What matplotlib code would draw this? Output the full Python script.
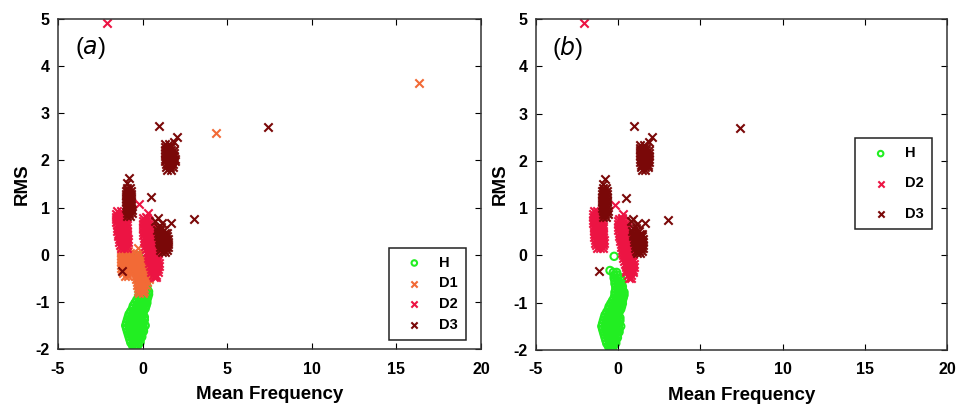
import numpy as np
import matplotlib.pyplot as plt

plt.rcParams['font.family'] = ['Liberation Sans', 'DejaVu Sans']
plt.rcParams['axes.unicode_minus'] = False

# feature points per class, written as (RMS, [mean frequencies]) rows
h_rows = [
    (-1.98, [-0.5, -0.35]),
    (-1.92, [-0.6, -0.45, -0.3]),
    (-1.86, [-0.7, -0.5, -0.3, -0.15]),
    (-1.80, [-0.75, -0.55, -0.35, -0.15]),
    (-1.74, [-0.8, -0.6, -0.4, -0.2, -0.05]),
    (-1.68, [-0.85, -0.65, -0.45, -0.25, -0.05]),
    (-1.62, [-0.9, -0.7, -0.5, -0.3, -0.1, 0.05]),
    (-1.56, [-0.95, -0.75, -0.55, -0.35, -0.15, 0.05]),
    (-1.50, [-1.0, -0.8, -0.6, -0.4, -0.2, 0.0, 0.15]),
    (-1.44, [-0.95, -0.75, -0.55, -0.35, -0.15, 0.05]),
    (-1.38, [-0.9, -0.7, -0.5, -0.3, -0.1, 0.1]),
    (-1.32, [-0.85, -0.65, -0.45, -0.25, -0.05, 0.1]),
    (-1.26, [-0.8, -0.6, -0.4, -0.2, 0.0]),
    (-1.20, [-0.7, -0.5, -0.3, -0.1, 0.05]),
    (-1.14, [-0.6, -0.4, -0.2, 0.0, 0.15]),
    (-1.08, [-0.55, -0.35, -0.15, 0.05, 0.2]),
    (-1.02, [-0.45, -0.25, -0.05, 0.15, 0.25]),
    (-0.96, [-0.35, -0.15, 0.05, 0.25]),
    (-0.90, [-0.25, -0.05, 0.15, 0.3]),
    (-0.84, [-0.2, 0.0, 0.2, 0.35]),
    (-0.78, [-0.2, 0.0, 0.2, 0.35]),
    (-0.72, [-0.15, 0.05, 0.25]),
    (-0.66, [-0.15, 0.05, 0.25]),
    (-0.60, [-0.2, 0.0, 0.2]),
    (-0.54, [-0.2, 0.0, 0.2]),
    (-0.48, [-0.25, -0.05, 0.15]),
    (-0.42, [-0.25, -0.05]),
    (-0.36, [-0.3, -0.1]),
    (-0.32, [-0.5]),
    (-0.02, [-0.25]),
]

d1_rows = [
    # left group
    (0.08, [-1.25, -1.05, -0.85]),
    (0.03, [-1.3, -1.1, -0.9, -0.75]),
    (-0.03, [-1.3, -1.1, -0.9, -0.75]),
    (-0.09, [-1.3, -1.1, -0.9, -0.75]),
    (-0.15, [-1.3, -1.1, -0.9, -0.75]),
    (-0.21, [-1.25, -1.05, -0.85, -0.7]),
    (-0.27, [-1.25, -1.05, -0.85, -0.7]),
    (-0.33, [-1.2, -1.0, -0.8]),
    (-0.39, [-1.15, -0.95, -0.75]),
    (-0.45, [-1.05, -0.85]),
    # right group
    (0.02, [-0.4, -0.2]),
    (-0.04, [-0.45, -0.25, -0.05]),
    (-0.10, [-0.5, -0.3, -0.1, 0.1]),
    (-0.16, [-0.5, -0.3, -0.1, 0.1]),
    (-0.22, [-0.5, -0.3, -0.1, 0.1, 0.25]),
    (-0.28, [-0.45, -0.25, -0.05, 0.15, 0.3]),
    (-0.34, [-0.45, -0.25, -0.05, 0.15, 0.3]),
    (-0.40, [-0.4, -0.2, 0.0, 0.2, 0.35]),
    (-0.46, [-0.4, -0.2, 0.0, 0.2, 0.35]),
    (-0.52, [-0.4, -0.2, 0.0, 0.2, 0.35]),
    (-0.58, [-0.35, -0.15, 0.05, 0.25]),
    (-0.64, [-0.35, -0.15, 0.05, 0.2]),
    (-0.70, [-0.3, -0.1, 0.1]),
    (-0.76, [-0.25, -0.05, 0.1]),
    (-0.82, [-0.2, 0.0]),
    # stray points
    (0.15, [-0.3]),
    (2.58, [4.35]),
    (3.65, [16.35]),
]

d2_rows = [
    # left group
    (0.93, [-1.5, -1.3]),
    (0.87, [-1.55, -1.35, -1.15]),
    (0.81, [-1.55, -1.35, -1.15, -1.0]),
    (0.75, [-1.55, -1.35, -1.15, -1.0]),
    (0.69, [-1.55, -1.35, -1.15, -1.0]),
    (0.63, [-1.5, -1.3, -1.1, -0.95]),
    (0.57, [-1.5, -1.3, -1.1, -0.95]),
    (0.51, [-1.5, -1.3, -1.1, -0.95]),
    (0.45, [-1.45, -1.25, -1.05, -0.9]),
    (0.39, [-1.45, -1.25, -1.05, -0.9]),
    (0.33, [-1.4, -1.2, -1.0, -0.85]),
    (0.27, [-1.4, -1.2, -1.0, -0.85]),
    (0.21, [-1.35, -1.15, -0.95]),
    (0.15, [-1.3, -1.1, -0.9]),
    # right group
    (0.78, [0.05, 0.25]),
    (0.72, [0.0, 0.2, 0.4]),
    (0.66, [0.0, 0.2, 0.4]),
    (0.60, [0.0, 0.2, 0.4, 0.55]),
    (0.54, [0.0, 0.2, 0.4, 0.55]),
    (0.48, [0.05, 0.25, 0.45, 0.6]),
    (0.42, [0.05, 0.25, 0.45, 0.6]),
    (0.36, [0.1, 0.3, 0.5, 0.65]),
    (0.30, [0.1, 0.3, 0.5, 0.65]),
    (0.24, [0.15, 0.35, 0.55, 0.7]),
    (0.18, [0.15, 0.35, 0.55, 0.7]),
    (0.12, [0.2, 0.4, 0.6, 0.75]),
    (0.06, [0.25, 0.45, 0.65, 0.8]),
    (0.00, [0.3, 0.5, 0.7, 0.85]),
    (-0.06, [0.3, 0.5, 0.7, 0.85]),
    (-0.12, [0.35, 0.55, 0.75, 0.9]),
    (-0.18, [0.4, 0.6, 0.8, 0.95]),
    (-0.24, [0.45, 0.65, 0.85, 0.95]),
    (-0.30, [0.5, 0.7, 0.9]),
    (-0.36, [0.5, 0.7, 0.9]),
    (-0.42, [0.6, 0.8]),
    (-0.47, [0.65, 0.8]),
    # stray points
    (4.92, [-2.1]),
    (1.07, [-0.2]),
    (0.88, [0.3]),
    (0.80, [0.2]),
]

d3_rows = [
    # left group
    (1.62, [-0.8]),
    (1.52, [-0.9]),
    (1.42, [-0.95, -0.75]),
    (1.36, [-1.0, -0.85, -0.7]),
    (1.30, [-1.0, -0.85, -0.7]),
    (1.24, [-1.0, -0.85, -0.7]),
    (1.18, [-1.0, -0.85, -0.7]),
    (1.12, [-1.0, -0.85, -0.7]),
    (1.06, [-1.0, -0.85, -0.7]),
    (1.00, [-1.0, -0.85, -0.7]),
    (0.94, [-0.95, -0.8, -0.65]),
    (0.88, [-0.95, -0.8, -0.65]),
    (0.82, [-0.9, -0.75]),
    # upper group
    (2.73, [0.95]),
    (2.50, [2.05]),
    (2.40, [1.85]),
    (2.34, [1.35, 1.55]),
    (2.28, [1.3, 1.5, 1.7]),
    (2.22, [1.3, 1.5, 1.7, 1.85]),
    (2.16, [1.3, 1.5, 1.7, 1.85]),
    (2.10, [1.35, 1.55, 1.75, 1.85]),
    (2.04, [1.35, 1.55, 1.75, 1.9]),
    (1.98, [1.35, 1.55, 1.75, 1.9]),
    (1.92, [1.4, 1.6, 1.8]),
    (1.86, [1.4, 1.6, 1.8]),
    (1.80, [1.45, 1.65]),
    # middle group
    (0.77, [0.9]),
    (0.72, [0.75]),
    (0.68, [1.65]),
    (0.67, [1.15]),
    (0.58, [0.9, 1.1]),
    (0.52, [0.85, 1.05, 1.25]),
    (0.46, [0.9, 1.1, 1.3, 1.45]),
    (0.40, [0.9, 1.1, 1.3, 1.45]),
    (0.34, [0.95, 1.15, 1.35, 1.5]),
    (0.28, [0.95, 1.15, 1.35, 1.5]),
    (0.22, [1.0, 1.2, 1.4, 1.5]),
    (0.16, [1.0, 1.2, 1.4, 1.5]),
    (0.10, [1.05, 1.25, 1.45]),
    (0.05, [1.15, 1.35]),
    # stray points
    (1.22, [0.5]),
    (0.75, [3.05]),
    (2.70, [7.4]),
    (-0.34, [-1.2]),
]

c_h = '#22EE22'
c_d1 = '#F26A36'
c_d2 = '#EC1443'
c_d3 = '#7A0808'


def to_points(rows):
    xs = [x for y, row in rows for x in row]
    ys = [y for y, row in rows for x in row]
    return np.array(xs), np.array(ys)


h = to_points(h_rows)
d1 = to_points(d1_rows)
d2 = to_points(d2_rows)
d3 = to_points(d3_rows)

fig = plt.figure(figsize=(9.56, 4.05), dpi=100)
ax_a = fig.add_axes([0.0607, 0.138, 0.4425, 0.815])
ax_b = fig.add_axes([0.5607, 0.136, 0.430, 0.817])


def draw_panel(ax, groups, tag, legend_loc, spacing):
    for (xs, ys), col, mk, lab in groups:
        if mk == 'o':
            ax.scatter(xs, ys, s=28, marker='o', facecolors='none',
                       edgecolors=col, linewidths=1.5, label=lab)
        else:
            ax.scatter(xs, ys, s=36, marker='x', color=col,
                       linewidths=1.5, label=lab)
    ax.set_xlim(-5, 20)
    ax.set_ylim(-2, 5)
    ax.set_xticks([-5, 0, 5, 10, 15, 20])
    ax.set_yticks(range(-2, 6))
    ax.tick_params(direction='in', length=4, width=0.8, top=True, right=True,
                   labelsize=11.5)
    ax.tick_params(axis='x', pad=9)
    ax.tick_params(axis='y', pad=6)
    for t in ax.get_xticklabels() + ax.get_yticklabels():
        t.set_fontweight('bold')
    for sp in ax.spines.values():
        sp.set_color('#333333')
        sp.set_linewidth(1.1)
    ax.set_xlabel('Mean Frequency', fontsize=13.5, fontweight='bold', labelpad=7)
    ax.set_ylabel('RMS', fontsize=13.5, fontweight='bold', labelpad=3)
    ax.text(0.04, 0.912, r'($\mathit{' + tag + '}$)', transform=ax.transAxes,
            fontsize=17, va='center', ha='left')
    leg = ax.legend(loc='center', bbox_to_anchor=legend_loc, fancybox=False,
                    edgecolor='#222222', framealpha=1, markerscale=0.75,
                    prop={'weight': 'bold', 'size': 10.5}, handletextpad=0.5,
                    borderpad=0.55, labelspacing=spacing, handlelength=2.4)
    leg.get_frame().set_linewidth(1.1)


draw_panel(ax_a, [(h, c_h, 'o', 'H'), (d1, c_d1, 'x', 'D1'),
                  (d2, c_d2, 'x', 'D2'), (d3, c_d3, 'x', 'D3')],
           'a', (0.873, 0.168), 0.45)
draw_panel(ax_b, [(h, c_h, 'o', 'H'), (d2, c_d2, 'x', 'D2'),
                  (d3, c_d3, 'x', 'D3')],
           'b', (0.87, 0.503), 1.1)

fig.savefig('out.png', dpi=100)
